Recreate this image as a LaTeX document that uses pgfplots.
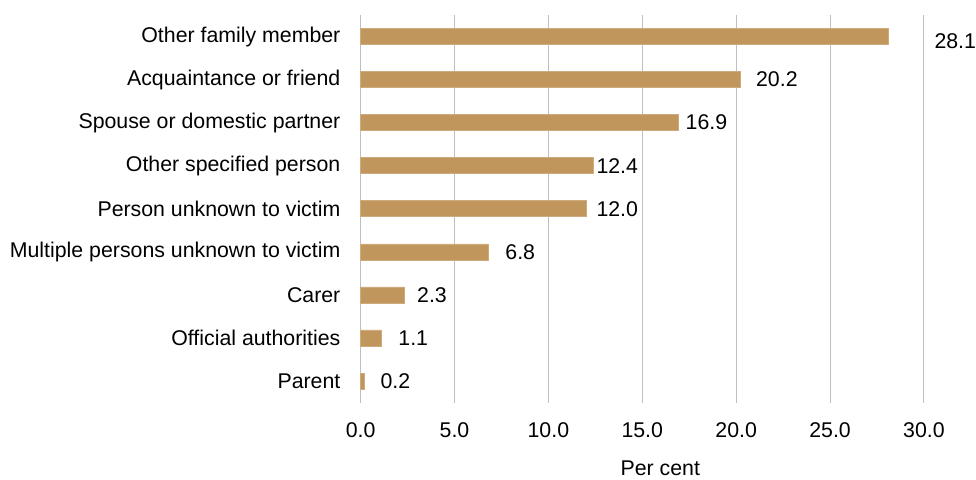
\documentclass[border=0pt]{standalone}
\usepackage{pgfplots}
\pgfplotsset{compat=1.18}
\usepackage{pgfplotstable}
\usepackage{fontspec}
\setmainfont{Liberation Sans}
\definecolor{barc}{HTML}{C0965C}
\pgfplotstableread{
y val lx ly lab
8 28.1 30.55 7.9 28.1
7 20.2 21.05 7 20.2
6 16.9 17.30 6 16.9
5 12.4 12.55 5 12.4
4 12.0 12.55 4 12.0
3 6.8 7.70 3 6.8
2 2.3 3.00 2 2.3
1 1.1 2.00 1 1.1
0 0.2 1.05 0 0.2
}\data
\begin{document}
\begin{tikzpicture}
\begin{axis}[
  width=423pt, height=291pt, scale only axis,
  xmin=0, xmax=30, ymin=-0.5, ymax=8.5,
  axis line style={draw=none},
  xtick={0,5,10,15,20,25,30},
  xticklabels={0.0,5.0,10.0,15.0,20.0,25.0,30.0},
  major tick length=0pt,
  xmajorgrids, grid style={color=black!25, line width=0.75pt},
  ytick={0,1,2,3,4,5,6,7,8},
  yticklabels={Parent, Official authorities, Carer, Multiple persons unknown to victim, Person unknown to victim, Other specified person, Spouse or domestic partner, Acquaintance or friend, Other family member},
  tick label style={font=\fontsize{16}{19}\selectfont},
  yticklabel style={inner sep=0pt, xshift=-15pt},
  xticklabel style={inner sep=0pt, yshift=-15pt},
  xlabel={Per cent},
  xlabel style={at={(axis description cs:0.532,0)}, anchor=base, inner sep=2.5pt, yshift=-55pt, font=\fontsize{16}{19}\selectfont},
  clip=false,
]
\addplot[xbar, bar width=12pt, fill=barc, draw=barc!80!white] table[x=val, y=y] {\data};
\addplot[draw=none, nodes near coords, point meta=explicit symbolic,
  every node near coord/.style={anchor=west, inner sep=0pt, font=\fontsize{16}{19}\selectfont, text=black}]
  table[x=lx, y=ly, meta=lab] {\data};
\path (rel axis cs:0,1) ++(-270.75pt,11.25pt);
\end{axis}
\end{tikzpicture}
\end{document}
